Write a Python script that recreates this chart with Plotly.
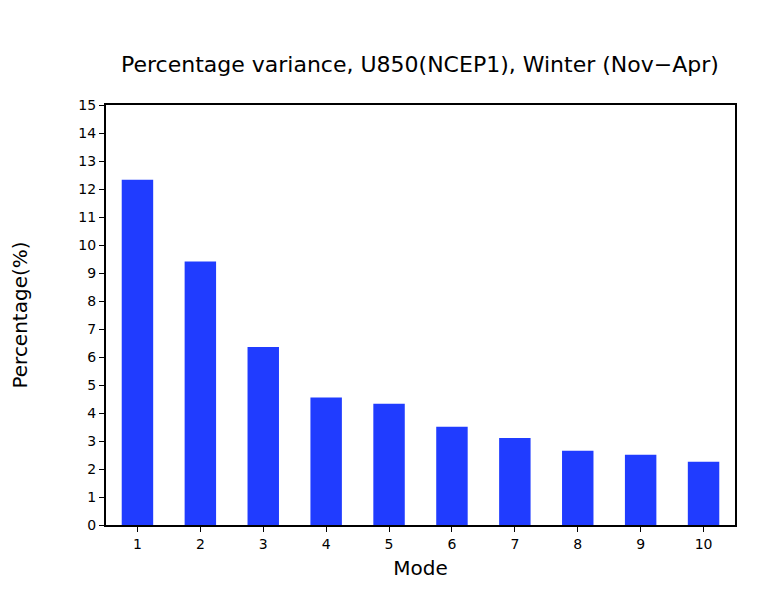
import plotly.graph_objects as go

# mode number and explained variance (%)
modes = [1, 2, 3, 4, 5, 6, 7, 8, 9, 10]
variance = [12.33, 9.41, 6.36, 4.55, 4.33, 3.51, 3.11, 2.65, 2.51, 2.26]
y_ticks = list(range(0, 16))

fig = go.Figure(go.Bar(
    x=modes,
    y=variance,
    width=0.5,
    marker=dict(color='#203cff', line=dict(width=0)),
))

axis_style = dict(
    showline=True,
    linecolor='black',
    linewidth=2,
    mirror=True,
    ticks='outside',
    ticklen=5,
    tickcolor='black',
    showgrid=False,
    zeroline=False,
    automargin=False,
    tickfont=dict(size=14, color='black'),
)

fig.update_layout(
    width=770,
    height=595,
    title=dict(
        text="Percentage variance, U850(NCEP1), Winter (Nov\u2212Apr)",
        x=0.535,
        xanchor='center',
        y=0.905,
        yanchor='middle',
        font=dict(size=22, color='black'),
    ),
    font=dict(family='DejaVu Sans', color='black'),
    paper_bgcolor='white',
    plot_bgcolor='white',
    margin=dict(l=98, r=43, t=97, b=78),
    xaxis=dict(
        range=[0.5, 10.5],
        tickvals=modes,
        title=dict(text='Mode', font=dict(size=20), standoff=10),
        **axis_style,
    ),
    yaxis=dict(
        range=[0, 15],
        tickvals=y_ticks,
        title=dict(text='Percentage(%)', font=dict(size=20), standoff=52),
        **axis_style,
    ),
    showlegend=False,
)

fig.write_html("out.html")
